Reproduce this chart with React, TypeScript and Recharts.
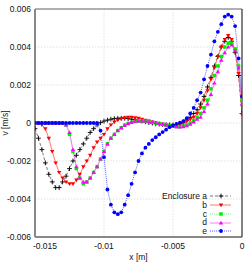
import React from 'react';
import { LineChart, Line, XAxis, YAxis, CartesianGrid, Legend } from 'recharts';

const xValues = [
  -0.015, -0.01475, -0.0145, -0.01425, -0.014, -0.01375, -0.0135, -0.01325, -0.013, -0.01275,
  -0.0125, -0.01225, -0.012, -0.01175, -0.0115, -0.01125, -0.011, -0.01075, -0.0105, -0.01025,
  -0.01, -0.00975, -0.0095, -0.00925, -0.009, -0.00875, -0.0085, -0.00825, -0.008, -0.00775,
  -0.0075, -0.00725, -0.007, -0.00675, -0.0065, -0.00625, -0.006, -0.00575, -0.0055, -0.00525,
  -0.005, -0.00475, -0.0045, -0.00425, -0.004, -0.00375, -0.0035, -0.00325, -0.003, -0.00275,
  -0.0025, -0.00225, -0.002, -0.00175, -0.0015, -0.00125, -0.001, -0.00075, -0.0005, -0.00025, 0,
];

const seriesA = [
  -0.0003, -0.0008, -0.0014, -0.0021, -0.0027, -0.0031, -0.0034, -0.0034, -0.0031, -0.0028,
  -0.0024, -0.002, -0.0017, -0.0014, -0.0011, -0.0008, -0.0005, -0.0003, -0.0001, 0.00002,
  0.0001, 0.00015, 0.0002, 0.00023, 0.00025, 0.00025, 0.00025, 0.00023, 0.0002, 0.00017,
  0.00013, 0.0001, 0.00006, 0.00002, -0.00001, -0.00004, -0.00006, -0.00008, -0.00009, -0.0001,
  -0.0001, -0.00008, -0.00003, 0.00005, 0.00015, 0.0003, 0.0005, 0.0007, 0.001, 0.0014,
  0.0019, 0.0024, 0.003, 0.0035, 0.004, 0.0043, 0.0045, 0.0043, 0.0037, 0.0025, 0.0005,
];

const seriesB = [
  0, 0, -0.0001, -0.0003, -0.0008, -0.0015, -0.0021, -0.0026, -0.0029, -0.0031,
  -0.0032, -0.0032, -0.003, -0.0027, -0.0023, -0.002, -0.0017, -0.0013, -0.001, -0.0008,
  -0.0006, -0.0003, -0.0001, 0.00005, 0.00015, 0.00022, 0.00027, 0.0003, 0.0003, 0.00028,
  0.00025, 0.0002, 0.00015, 0.0001, 0.00005, 0, -0.00004, -0.00007, -0.0001, -0.00012,
  -0.00014, -0.00014, -0.0001, -0.00002, 0.0001, 0.0002, 0.0003, 0.0005, 0.0008, 0.0012,
  0.0017, 0.0023, 0.0029, 0.0035, 0.004, 0.0044, 0.0046, 0.0044, 0.0038, 0.0026, 0.00045,
];

const seriesC = [
  0, 0, 0, 0, 0, 0, 0, 0, 0, -0.0001,
  -0.0006, -0.0015, -0.0024, -0.0029, -0.0032, -0.0031, -0.0029, -0.0026, -0.0023, -0.0019,
  -0.0015, -0.0011, -0.0008, -0.0006, -0.0004, -0.00025, -0.00012, -0.00003, 0.00004, 0.00008,
  0.0001, 0.0001, 0.00009, 0.00007, 0.00004, 0, -0.00003, -0.00007, -0.0001, -0.00014,
  -0.00017, -0.00019, -0.00019, -0.00016, -0.0001, 0, 0.00012, 0.0003, 0.0005, 0.0008,
  0.0012, 0.0018, 0.0025, 0.003, 0.0035, 0.004, 0.0042, 0.0042, 0.0039, 0.003, 0.0012,
];

const seriesD = [
  0, 0, 0, 0, 0, 0, 0, 0, 0, -0.0001,
  -0.0005, -0.0014, -0.0023, -0.0029, -0.0031, -0.0031, -0.0029, -0.0026, -0.0023, -0.0019,
  -0.0015, -0.0011, -0.0008, -0.0006, -0.0004, -0.00025, -0.00012, -0.00003, 0.00004, 0.00009,
  0.00011, 0.00011, 0.0001, 0.00008, 0.00005, 0.00002, -0.00002, -0.00006, -0.0001, -0.00014,
  -0.00018, -0.0002, -0.00021, -0.0002, -0.00015, -0.00007, 0.00005, 0.0002, 0.0003, 0.0006,
  0.001, 0.0015, 0.0021, 0.0027, 0.0033, 0.0037, 0.004, 0.0041, 0.0038, 0.0029, 0.001,
];

const seriesE = [
  0, 0, 0, 0, 0, 0, 0, 0, 0, 0,
  0, 0, 0, 0, 0, 0, 0, 0, 0, -0.0004,
  -0.0018, -0.0035, -0.0043, -0.0047, -0.0048, -0.0047, -0.0043, -0.0038, -0.0032, -0.0026,
  -0.002, -0.0016, -0.0013, -0.0011, -0.0009, -0.00075, -0.0006, -0.00048, -0.00035, -0.00022,
  -0.00012, -0.00005, 0.00002, 0.0001, 0.00025, 0.0005, 0.0008, 0.0012, 0.0016, 0.0023,
  0.003, 0.0036, 0.0043, 0.0048, 0.0052, 0.0056, 0.0057, 0.0056, 0.0051, 0.0034, 0.0014,
];

const xTicks = [-0.015, -0.01, -0.005, 0];
const yTicks = [-0.006, -0.004, -0.002, 0, 0.002, 0.004, 0.006];
const xMinorTicks = [
  -0.015, -0.014, -0.013, -0.012, -0.011, -0.01, -0.009, -0.008, -0.007, -0.006, -0.005,
  -0.004, -0.003, -0.002, -0.001, 0,
];
const yMinorTicks = [
  -0.006, -0.0056, -0.0052, -0.0048, -0.0044, -0.004, -0.0036, -0.0032, -0.0028, -0.0024,
  -0.002, -0.0016, -0.0012, -0.0008, -0.0004, 0, 0.0004, 0.0008, 0.0012, 0.0016, 0.002,
  0.0024, 0.0028, 0.0032, 0.0036, 0.004, 0.0044, 0.0048, 0.0052, 0.0056, 0.006,
];

const seriesNames = ['Enclosure a', 'b', 'c', 'd', 'e'];

type Cfg = { key: string; name: string; values: number[]; color: string; lineColor: string; dash?: string; marker: string };

const seriesCfg: Cfg[] = [
  { key: 'a', name: seriesNames[0], values: seriesA, color: '#000000', lineColor: '#555555', dash: '3 2', marker: 'plus' },
  { key: 'b', name: seriesNames[1], values: seriesB, color: '#ff0000', lineColor: '#ff5050', marker: 'tridown' },
  { key: 'c', name: seriesNames[2], values: seriesC, color: '#00ee00', lineColor: '#55ff55', dash: '1 1', marker: 'square' },
  { key: 'd', name: seriesNames[3], values: seriesD, color: '#ff00ff', lineColor: '#ff55ff', marker: 'triup' },
  { key: 'e', name: seriesNames[4], values: seriesE, color: '#0000ff', lineColor: '#3333ff', dash: '1 1', marker: 'circle' },
];

const data = xValues.map((x, i) => {
  const row: any = { x };
  seriesCfg.forEach((s) => { row[s.key] = s.values[i]; });
  return row;
});

const FONT = '"Liberation Sans", Arial, Helvetica, sans-serif';
const FS = 8.5;

function Marker({ kind, cx, cy, color }: { kind: string; cx: number; cy: number; color: string }) {
  switch (kind) {
    case 'plus':
      return (
        <g stroke={color} strokeWidth={0.9}>
          <line x1={cx - 2.4} y1={cy} x2={cx + 2.4} y2={cy} />
          <line x1={cx} y1={cy - 2.4} x2={cx} y2={cy + 2.4} />
        </g>
      );
    case 'tridown':
      return <polygon points={`${cx - 2.2},${cy - 1.5} ${cx + 2.2},${cy - 1.5} ${cx},${cy + 2.2}`} fill={color} />;
    case 'triup':
      return <polygon points={`${cx - 2.2},${cy + 1.5} ${cx + 2.2},${cy + 1.5} ${cx},${cy - 2.2}`} fill={color} />;
    case 'square':
      return <rect x={cx - 1.75} y={cy - 1.75} width={3.5} height={3.5} fill={color} />;
    default:
      return <circle cx={cx} cy={cy} r={1.9} fill={color} />;
  }
}

const makeDot = (kind: string, color: string) => (props: any) => {
  const { cx, cy, index } = props;
  if (cx == null || cy == null || isNaN(cx) || isNaN(cy)) return <g key={`d-${index}`} />;
  return (
    <g key={`d-${index}`}>
      <Marker kind={kind} cx={cx} cy={cy} color={color} />
    </g>
  );
};

const XTick = (props: any) => {
  const { x, y, payload } = props;
  const v = payload.value;
  const shift = v === -0.015 ? 10 : 0;
  return (
    <text x={x + shift} y={y} dy="0.71em" textAnchor="middle" fontSize={FS} fontFamily={FONT} fill="#111">
      {String(v)}
    </text>
  );
};

const YTick = (props: any) => {
  const { x, y, payload } = props;
  return (
    <text x={x} y={y} dy="0.35em" textAnchor="end" fontSize={FS} fontFamily={FONT} fill="#111">
      {String(payload.value)}
    </text>
  );
};

const renderLegend = (props: any) => {
  const payload = props.payload || [];
  return (
    <div style={{ display: 'flex', flexDirection: 'column', alignItems: 'flex-end', fontFamily: FONT, fontSize: FS, color: '#111' }}>
      {payload.map((p: any, i: number) => {
        const cfg = seriesCfg.find((s) => s.key === p.dataKey) || seriesCfg[i];
        return (
          <div key={i} style={{ display: 'flex', alignItems: 'center', height: 8.75, lineHeight: '8.75px' }}>
            <span>{cfg.name}</span>
            <svg width={24} height={8} style={{ marginLeft: 2, display: 'block' }}>
              <line x1={1} y1={4} x2={22} y2={4} stroke={cfg.lineColor} strokeWidth={0.8} strokeDasharray={cfg.dash} />
              <Marker kind={cfg.marker} cx={12} cy={4} color={cfg.color} />
            </svg>
          </div>
        );
      })}
    </div>
  );
};

export default function App() {
  return (
    <div style={{ position: 'absolute', left: 0, top: 0, width: 250, height: 263, background: '#fff', fontFamily: FONT }}>
      <LineChart width={250} height={263} data={data} margin={{ top: 9, right: 8, bottom: 0, left: 0 }}>
        <CartesianGrid stroke="#cfcfcf" strokeWidth={0.6} strokeDasharray="1.5 1.5" />
        <XAxis
          dataKey="x"
          type="number"
          domain={[-0.015, 0]}
          ticks={xTicks}
          height={26}
          tickSize={0}
          tickMargin={6}
          tickLine={false}
          axisLine={{ stroke: '#888', strokeWidth: 2 }}
          tick={<XTick />}
          allowDataOverflow
          label={{ value: 'x [m]', position: 'insideBottom', offset: 3, fontSize: FS, fontFamily: FONT, fill: '#111' }}
        />
        <YAxis
          type="number"
          domain={[-0.006, 0.006]}
          ticks={yTicks}
          width={35}
          tickSize={0}
          tickMargin={4}
          tickLine={false}
          axisLine={{ stroke: '#888', strokeWidth: 2 }}
          tick={<YTick />}
          allowDataOverflow
          label={{ value: 'v [m/s]', angle: -90, position: 'insideLeft', offset: 5, fontSize: FS, fontFamily: FONT, fill: '#111', style: { textAnchor: 'middle' } }}
        />
        <XAxis xAxisId="top" orientation="top" type="number" domain={[-0.015, 0]} ticks={xMinorTicks} mirror tick={false} tickSize={2.5} tickLine={{ stroke: '#777', strokeWidth: 0.8 }} axisLine={{ stroke: '#999', strokeWidth: 1.5 }} allowDataOverflow />
        <XAxis xAxisId="bmin" orientation="bottom" type="number" domain={[-0.015, 0]} ticks={xMinorTicks} mirror tick={false} tickSize={2.5} tickLine={{ stroke: '#777', strokeWidth: 0.8 }} axisLine={false} allowDataOverflow />
        <YAxis yAxisId="right" orientation="right" type="number" domain={[-0.006, 0.006]} ticks={yMinorTicks} mirror tick={false} tickSize={2.5} tickLine={{ stroke: '#777', strokeWidth: 0.8 }} axisLine={{ stroke: '#333', strokeWidth: 1.2 }} allowDataOverflow />
        <YAxis yAxisId="lmin" orientation="left" type="number" domain={[-0.006, 0.006]} ticks={yMinorTicks} mirror tick={false} tickSize={2.5} tickLine={{ stroke: '#777', strokeWidth: 0.8 }} axisLine={false} allowDataOverflow />
        {seriesCfg.map((s) => (
          <Line
            key={s.key}
            dataKey={s.key}
            name={s.name}
            type="linear"
            stroke={s.lineColor}
            strokeWidth={0.8}
            strokeDasharray={s.dash}
            dot={makeDot(s.marker, s.color)}
            activeDot={false}
            isAnimationActive={false}
          />
        ))}
        <Legend
          layout="vertical"
          align="center"
          verticalAlign="middle"
          content={renderLegend}
          wrapperStyle={{ left: 100, top: 192, width: 133, height: 44 }}
        />
      </LineChart>
    </div>
  );
}
